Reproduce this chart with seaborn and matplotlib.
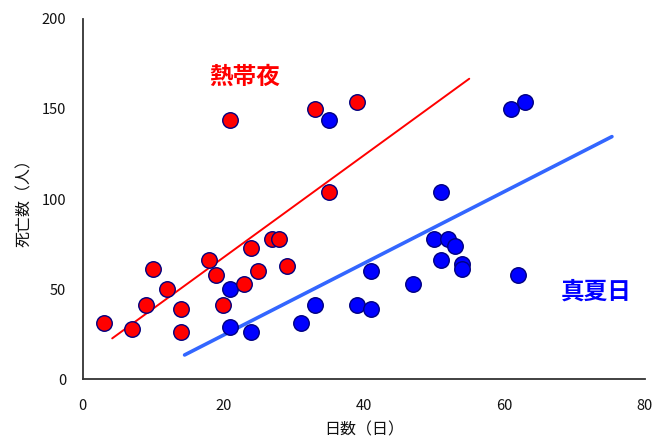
import matplotlib
matplotlib.use("Agg")
import matplotlib.pyplot as plt
import seaborn as sns
import pandas as pd

sns.set_theme(style="white")
plt.rcParams['font.family'] = ['Noto Sans CJK JP', 'DejaVu Sans']

# Deaths per year vs number of days
deaths = [31, 28, 41, 61, 50, 39, 26, 66, 58, 41, 53, 73, 60, 78, 78, 63, 144, 150, 154, 104]
tropical_nights = [3, 7, 9, 10, 12, 14, 14, 18, 19, 20, 23, 24, 25, 27, 28, 29, 21, 33, 39, 35]

deaths_hot = [50, 29, 26, 31, 41, 41, 39, 60, 53, 78, 78, 74, 66, 64, 61, 58, 144, 150, 154, 104]
hot_days = [21, 21, 24, 31, 33, 39, 41, 41, 47, 50, 52, 53, 51, 54, 54, 62, 35, 61, 63, 51]

# Trend lines (endpoints)
red_fit_x = [4.2, 55.0]
red_fit_y = [22.7, 166.7]
blue_fit_x = [14.5, 75.3]
blue_fit_y = [13.5, 134.6]

xticks = [0, 20, 40, 60, 80]
yticks = [0, 50, 100, 150, 200]

df_red = pd.DataFrame({"days": tropical_nights, "deaths": deaths})
df_blue = pd.DataFrame({"days": hot_days, "deaths": deaths_hot})

fig = plt.figure(figsize=(6.53, 4.44), dpi=100)
ax = fig.add_axes([0.1266, 0.1457, 0.8611, 0.8122])

sns.lineplot(x=red_fit_x, y=red_fit_y, ax=ax, color="#ff0000", linewidth=1.4, zorder=2)
sns.lineplot(x=blue_fit_x, y=blue_fit_y, ax=ax, color="#3366ff", linewidth=2.6, zorder=2)

sns.scatterplot(data=df_blue, x="days", y="deaths", ax=ax, color="#0000ff",
                edgecolor="#000080", linewidth=1.0, s=125, zorder=3)
sns.scatterplot(data=df_red, x="days", y="deaths", ax=ax, color="#ff0000",
                edgecolor="#000080", linewidth=1.0, s=125, zorder=4)

ax.set_xlim(0, 80)
ax.set_ylim(0, 200)
ax.set_xticks(xticks)
ax.set_yticks(yticks)
ax.set_xticklabels([str(t) for t in xticks])
ax.set_yticklabels([str(t) for t in yticks])

for side in ["top", "right"]:
    ax.spines[side].set_visible(False)
for side in ["left", "bottom"]:
    ax.spines[side].set_color("#333333")
    ax.spines[side].set_linewidth(1.3)

ax.tick_params(axis="both", direction="in", length=5, width=1.2, color="#333333",
               labelsize=10.5, labelcolor="#111111")
ax.tick_params(axis="x", pad=14)
ax.tick_params(axis="y", pad=12)

ax.set_xlabel("日数（日）", fontsize=11.5, color="#111111", labelpad=6)
ax.set_ylabel("死亡数（人）", fontsize=11.5, color="#111111", labelpad=6)

ax.text(23.1, 168, "熱帯夜", color="#ff0000", fontsize=17, fontweight="bold",
        ha="center", va="center")
ax.text(73.1, 48.6, "真夏日", color="#0000ff", fontsize=17, fontweight="bold",
        ha="center", va="center")

ax.grid(False)
fig.savefig("out.png", dpi=100)
